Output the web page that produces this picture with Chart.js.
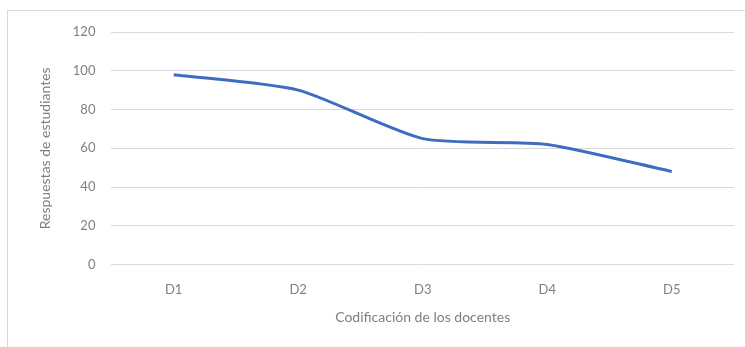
<!DOCTYPE html>
<html>
<head>
<meta charset="utf-8">
<script src="https://cdn.jsdelivr.net/npm/chart.js@4.4.1/dist/chart.umd.min.js"></script>
<style>
  html, body { margin: 0; padding: 0; background: #ffffff; }
  body { width: 745px; height: 347px; position: relative; overflow: hidden; }
  #frame {
    position: absolute; left: 7px; top: 10px; width: 760px; height: 360px;
    border: 1px solid #d9d9d9; box-sizing: border-box;
  }
  #wrap { position: absolute; left: 0; top: 0; width: 745px; height: 347px; }
</style>
</head>
<body>
<div id="frame"></div>
<div id="wrap"><canvas id="chart" width="745" height="347"></canvas></div>
<script>
// Teacher codes and the number of student responses for each one
const docentes = ['D1', 'D2', 'D3', 'D4', 'D5'];
const respuestas = [98, 90, 65, 62, 48];
const yTicks = [0, 20, 40, 60, 80, 100, 120];

const axisFont = { family: 'Lato, "Open Sans", sans-serif', size: 13 };
const gris = '#7f7f7f';

new Chart(document.getElementById('chart'), {
  type: 'line',
  data: {
    labels: docentes,
    datasets: [{
      data: respuestas,
      borderColor: '#3f6cc0',
      borderWidth: 3,
      tension: 0.22,
      pointRadius: 0,
      fill: false
    }]
  },
  options: {
    responsive: false,
    animation: false,
    layout: { padding: { left: 33, right: 11, top: 32, bottom: 17 } },
    plugins: { legend: { display: false }, tooltip: { enabled: false } },
    scales: {
      x: {
        offset: true,
        grid: { display: false },
        border: { display: false },
        ticks: { color: gris, font: axisFont, padding: 9 },
        title: {
          display: true, text: 'Codificación de los docentes',
          color: gris, font: { family: axisFont.family, size: 14 }, padding: { top: 3 }
        }
      },
      y: {
        min: 0, max: 120,
        afterBuildTicks: (axis) => { axis.ticks = yTicks.map(v => ({ value: v })); },
        grid: { color: '#d9d9d9', drawTicks: false, lineWidth: 1 },
        border: { display: false },
        ticks: { color: gris, font: axisFont, padding: 16 },
        title: {
          display: true, text: 'Respuestas de estudiantes',
          color: gris, font: { family: axisFont.family, size: 14 }, padding: { bottom: 3 }
        }
      }
    }
  }
});
</script>
</body>
</html>
